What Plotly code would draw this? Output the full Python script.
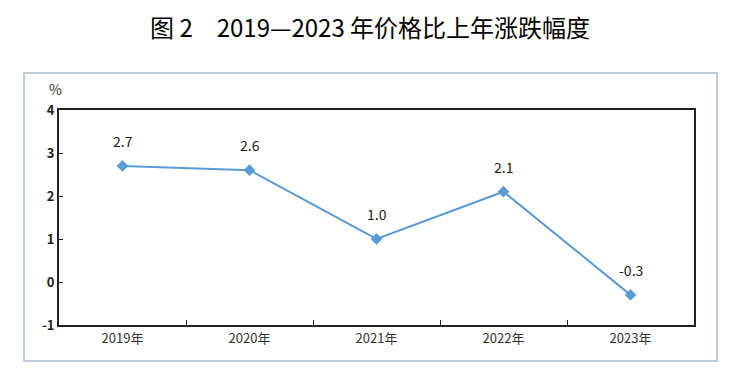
import plotly.graph_objects as go

years = ["2019年", "2020年", "2021年", "2022年", "2023年"]
values = [2.7, 2.6, 1.0, 2.1, -0.3]
labels = ["2.7", "2.6", "1.0", "2.1", "-0.3"]
ytick_vals = [-1, 0, 1, 2, 3, 4]
ytick_text = ["-1", "0", "1", "2", "3", "4"]
title_text = "图 2　2019—2023 年价格比上年涨跌幅度"

OFF = 8  # default body margin of the html page
W, H = 735 - OFF, 373 - OFF
# plot area in screen pixels: x 59..694, y 110..325
L = 59 - OFF
T = 110 - OFF
R = W - (694 - OFF)
B = H - (325 - OFF)
pw, ph = W - L - R, H - T - B

def px_x(x):
    return (x - OFF - L) / pw

def px_y(y):
    return (H - B - (y - OFF)) / ph

fig = go.Figure()
fig.add_trace(go.Scatter(
    x=years, y=values, mode="lines+markers",
    line=dict(color="#5B9BD5", width=2),
    marker=dict(symbol="diamond", size=9, color="#5B9BD5"),
    hoverinfo="skip", showlegend=False,
))
for yr, v, t in zip(years, values, labels):
    fig.add_annotation(x=yr, y=v, text=t, showarrow=False, yshift=25,
                       font=dict(family="Noto Sans CJK SC", size=14, color="#1a1a1a"))

fig.add_annotation(xref="paper", yref="paper", x=px_x(55), y=px_y(89), text="%",
                   showarrow=False, xanchor="center", yanchor="middle",
                   font=dict(family="Noto Sans CJK SC", size=14, color="#333333"))
fig.add_annotation(xref="paper", yref="paper", x=px_x(370), y=px_y(27), text=title_text,
                   showarrow=False, xanchor="center", yanchor="middle",
                   font=dict(family="Noto Sans CJK SC", size=24, color="#000000"))
fig.add_shape(type="rect", xref="paper", yref="paper",
              x0=px_x(24), x1=px_x(717), y0=px_y(361), y1=px_y(73),
              line=dict(color="#A9BDD3", width=1.5), layer="below")

fig.update_layout(
    width=W, height=H,
    margin=dict(l=L, r=R, t=T, b=B),
    paper_bgcolor="white", plot_bgcolor="white",
    xaxis=dict(type="category", tickson="boundaries", ticks="inside", ticklen=5,
               tickcolor="#222222", showline=True, linecolor="#222222", linewidth=2,
               mirror=True, showgrid=False, range=[-0.5, 4.5],
               tickfont=dict(family="Noto Sans CJK SC", size=13, color="#333333")),
    yaxis=dict(range=[-1, 4], tickvals=ytick_vals, ticktext=ytick_text,
               ticks="inside", ticklen=4,
               tickcolor="#222222", showline=True, linecolor="#222222", linewidth=2,
               mirror=True, showgrid=False, zeroline=False,
               tickfont=dict(family="Noto Sans CJK SC", size=13, color="#222222", weight="bold")),
)

fig.write_html("out.html")
